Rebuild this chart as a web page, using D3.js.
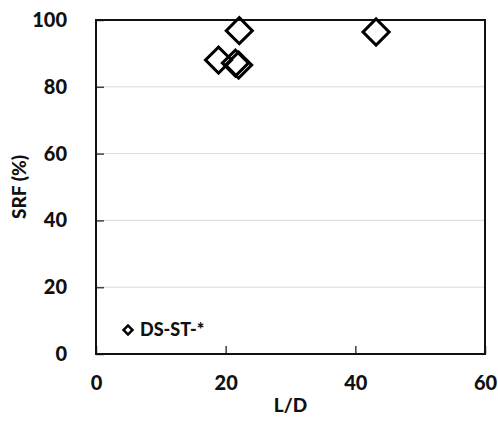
<!DOCTYPE html>
<html>
<head>
<meta charset="utf-8">
<script src="https://cdn.jsdelivr.net/npm/d3@7"></script>
<style>
  body { margin: 0; background: #fff; }
  text { font-family: Lato, "Open Sans", sans-serif; font-weight: 900; fill: #111; }
</style>
</head>
<body>
<svg id="chart" width="498" height="421"></svg>
<script>
// data
const ratioLD = [22.1, 18.9, 22.0, 21.5, 43.2];
const srf = [96.8, 88.0, 86.5, 87.1, 96.4];
const xTicks = [0, 20, 40, 60];
const yTicks = [0, 20, 40, 60, 80, 100];
const seriesName = "DS-ST-*";

const width = 498, height = 421;
const margin = { top: 20, right: 13, bottom: 67, left: 96 };
const w = width - margin.left - margin.right;
const h = height - margin.top - margin.bottom;

const svg = d3.select("#chart");
const g = svg.append("g").attr("transform", "translate(" + margin.left + "," + margin.top + ")");

const x = d3.scaleLinear().domain([0, 60]).range([0, w]);
const y = d3.scaleLinear().domain([0, 100]).range([h, 0]);

// gridlines
g.selectAll(".grid")
  .data(yTicks.filter(t => t > 0 && t < 100))
  .enter().append("line")
  .attr("x1", 0).attr("x2", w)
  .attr("y1", d => y(d)).attr("y2", d => y(d))
  .attr("stroke", "#d9d9d9").attr("stroke-width", 1);

// y axis
const yAxis = g.append("g")
  .call(d3.axisLeft(y).tickValues(yTicks).tickSize(-8).tickPadding(29));
yAxis.select(".domain").remove();
yAxis.selectAll(".tick line").attr("stroke", "#404040").attr("stroke-width", 1.5);
yAxis.selectAll("text").style("font-size", "20px");

// x axis
const xAxis = g.append("g")
  .attr("transform", "translate(0," + h + ")")
  .call(d3.axisBottom(x).tickValues(xTicks).tickSize(-8).tickPadding(22));
xAxis.select(".domain").remove();
xAxis.selectAll(".tick line").attr("stroke", "#404040").attr("stroke-width", 1.5);
xAxis.selectAll("text").style("font-size", "20px");

// frame
g.append("rect")
  .attr("width", w).attr("height", h)
  .attr("fill", "none").attr("stroke", "#111").attr("stroke-width", 2);

// points
const diamond = d3.symbol().type(d3.symbolSquare).size(340);
g.selectAll(".pt")
  .data(ratioLD.map((d, i) => [d, srf[i]]))
  .enter().append("path")
  .attr("d", diamond)
  .attr("transform", d => "translate(" + x(d[0]) + "," + y(d[1]) + ") rotate(45)")
  .attr("fill", "none").attr("stroke", "#000").attr("stroke-width", 3);

// legend
const leg = g.append("g").attr("transform", "translate(32," + (h - 24) + ")");
leg.append("path")
  .attr("d", d3.symbol().type(d3.symbolSquare).size(40))
  .attr("transform", "rotate(45)")
  .attr("fill", "none").attr("stroke", "#000").attr("stroke-width", 2.5);
leg.append("text").attr("x", 12).attr("y", 6).style("font-size", "18px").text(seriesName);

// axis titles
svg.append("text")
  .attr("x", margin.left + w / 2).attr("y", 412)
  .attr("text-anchor", "middle").style("font-size", "19px").text("L/D");
svg.append("text")
  .attr("transform", "translate(26," + (margin.top + h / 2) + ") rotate(-90)")
  .attr("text-anchor", "middle").style("font-size", "19px").text("SRF (%)");
</script>
</body>
</html>
